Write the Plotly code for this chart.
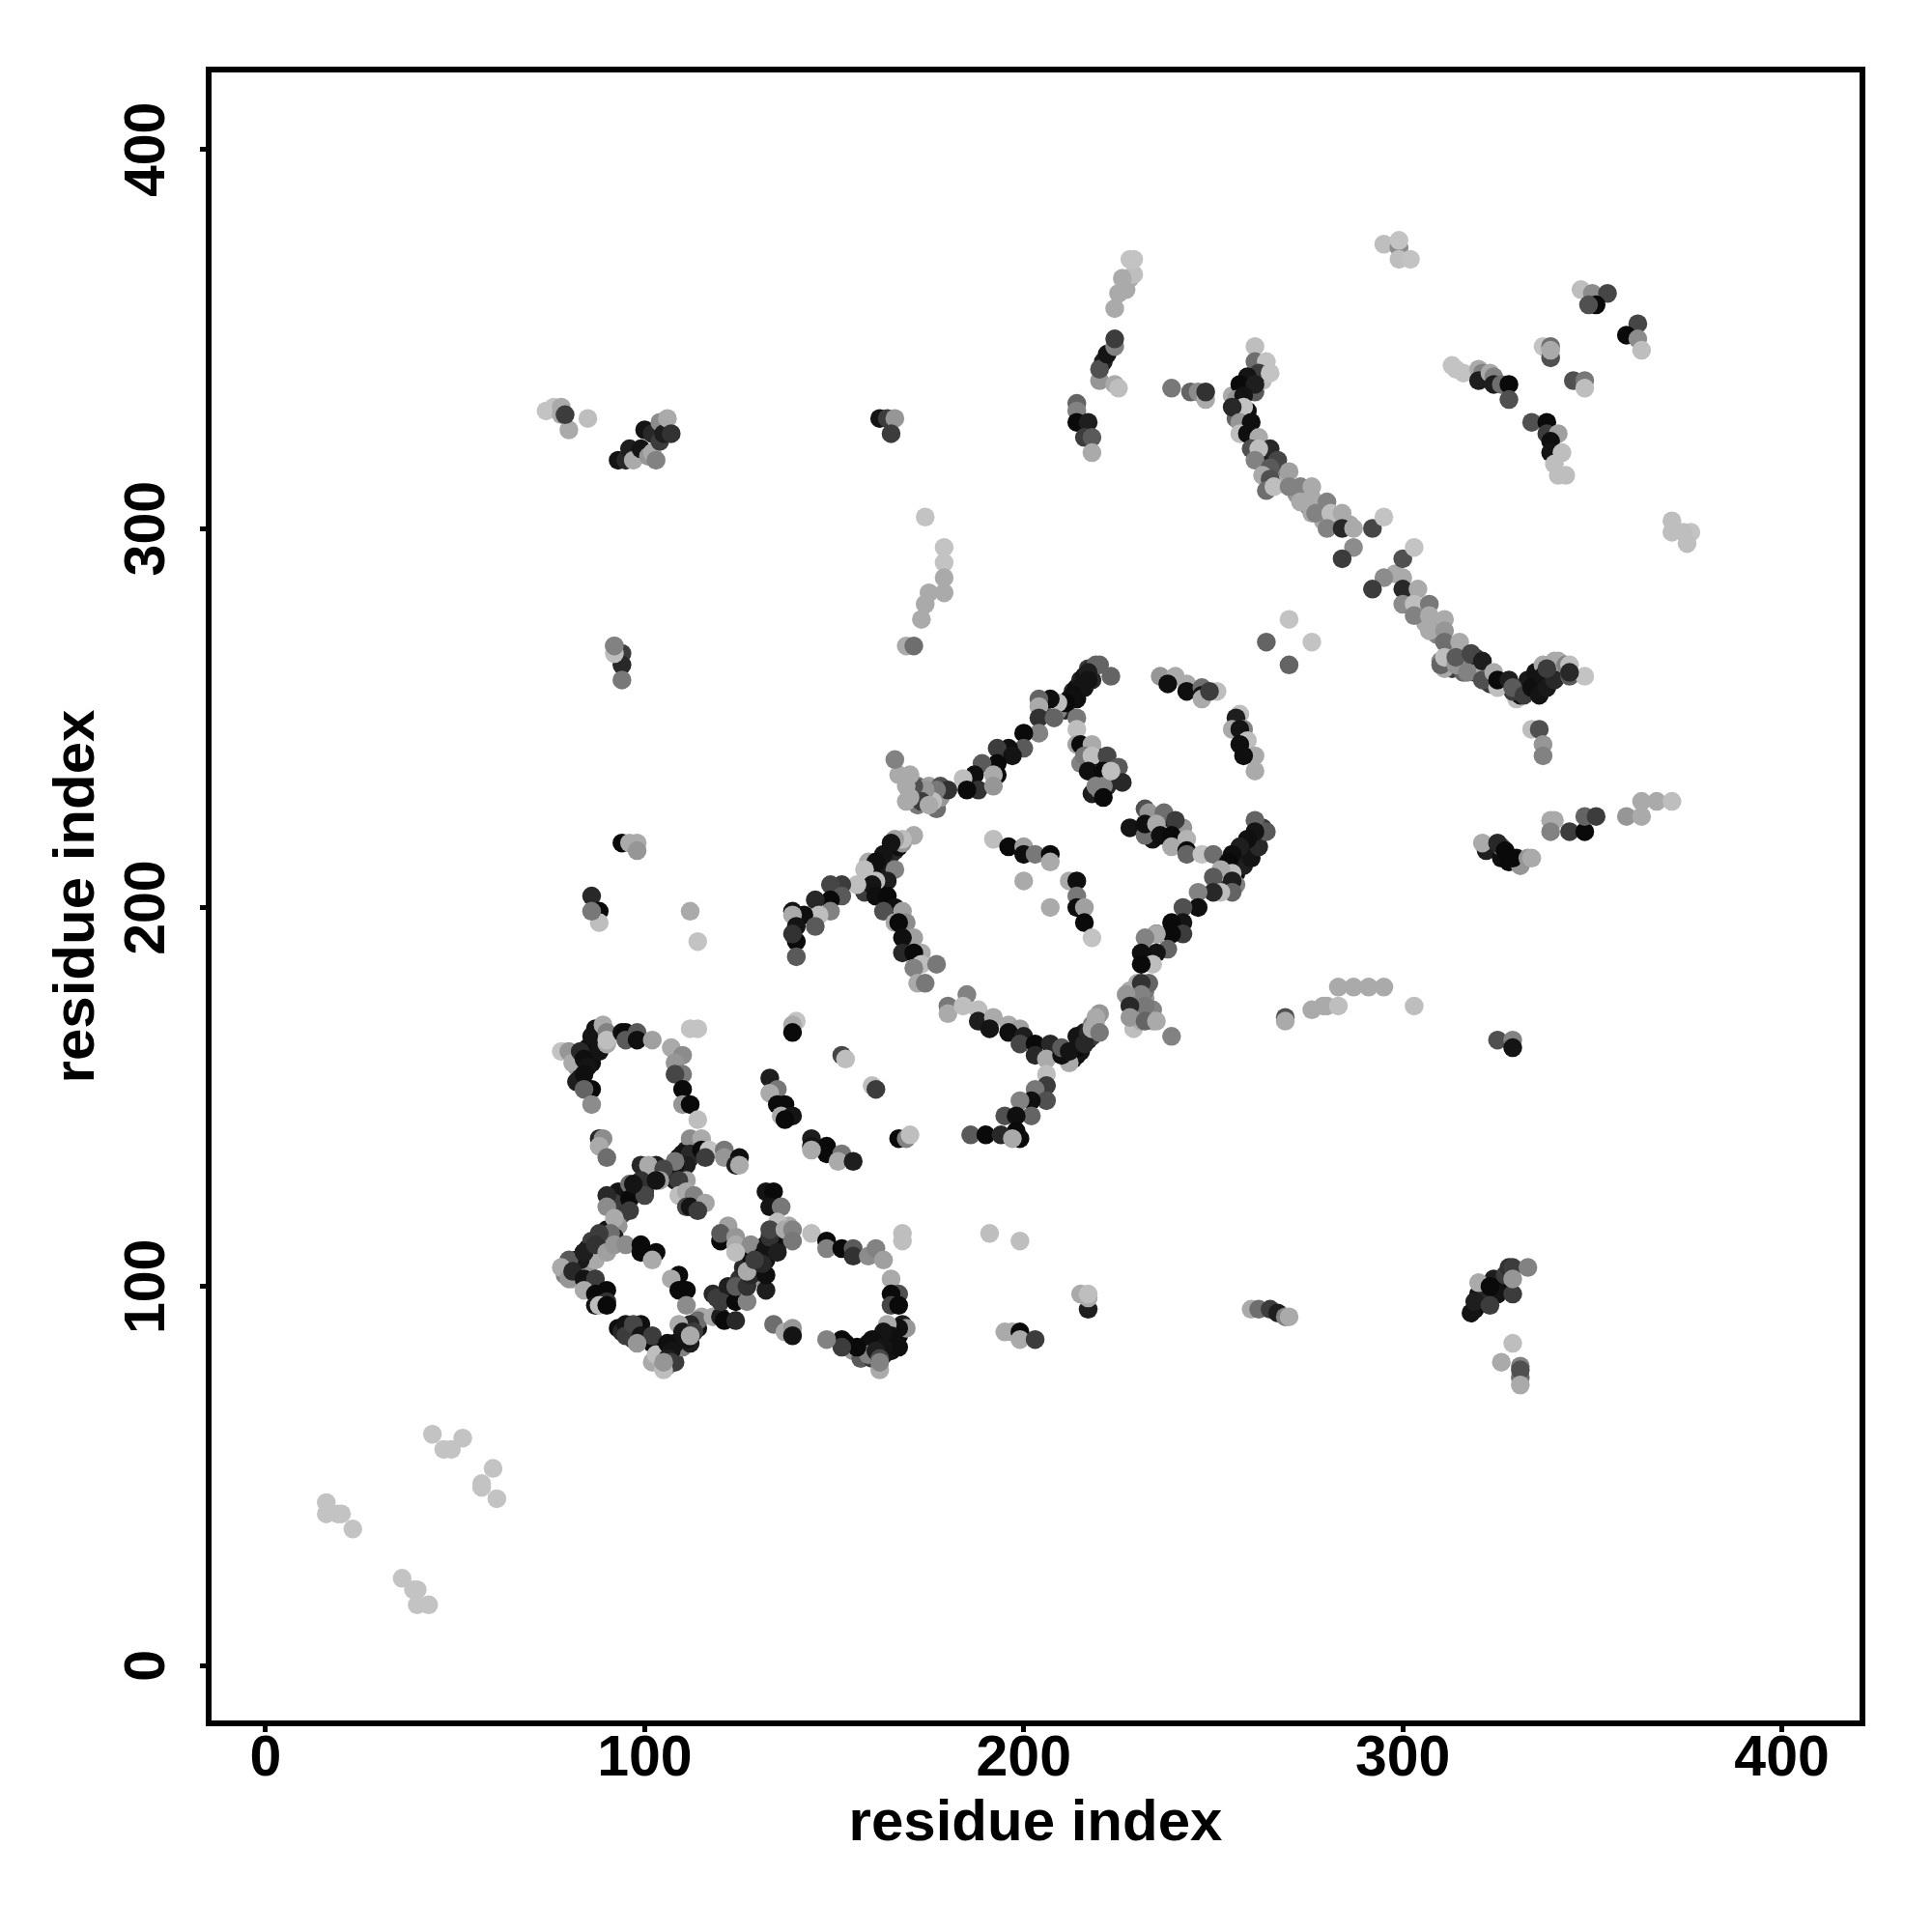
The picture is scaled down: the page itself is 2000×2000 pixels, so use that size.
import plotly.graph_objects as go

# each group: residue i, residue j, grey level of the contact
dense_a_x = [210,212,213,214,215,216,217,218,219,214,216,218,211,209,206,208,257,258,259,260,261,262,263,256,258,260,262,254,255,256,253,252,251]
dense_a_y = [253,255,257,258,260,261,263,263,264,255,258,260,252,252,252,254,212,214,215,216,218,219,221,209,211,213,216,210,207,206,208,207,205]
dense_a_g = [30,20,40,15,30,20,60,40,100,15,20,40,40,130,30,90,20,40,15,30,20,15,60,15,30,20,40,30,20,130,15,190,60]

dense_b_x = [160,161,162,163,164,165,166,167,168,160,162,164,166,159,158,161,106,107,108,109,110,111,112,113,105,106,108,110,112,114,104,115]
dense_b_y = [206,208,210,211,213,214,215,216,217,204,206,208,210,212,204,203,80,82,83,85,86,87,88,90,84,79,80,84,85,89,83,92]
dense_b_g = [20,40,15,30,20,60,40,15,150,30,15,25,130,170,60,20,30,15,40,20,15,30,60,40,20,150,60,130,30,20,190,170]

dense_c_x = [158,159,160,161,162,163,164,165,166,167,168,155,157,153,160,163,165,167,80,81,82,83,84,85,86,87,88,89,79,81,83,85,87,90]
dense_c_y = [84,85,83,86,85,84,87,85,88,87,90,83,81,85,81,82,83,84,105,104,107,106,108,110,109,112,111,113,103,102,104,105,107,115]
dense_c_g = [130,20,15,30,15,20,60,25,15,10,30,150,90,15,60,30,20,15,60,40,20,15,30,20,70,15,30,60,130,170,100,150,170,20]

dense_d_x = [82,83,84,85,86,87,82,84,86,88,90,108,109,110,111,112,113,114,115,109,111,113,131,132,133,134,135,136,137,130,132,134,136,138,129,131]
dense_d_y = [158,160,161,163,164,166,154,157,159,162,164,128,130,131,133,134,135,137,138,134,136,137,106,107,109,110,111,113,114,109,111,113,115,116,104,102]
dense_d_g = [150,20,15,30,15,40,30,25,15,20,170,30,15,20,15,40,60,20,140,15,30,170,15,20,10,30,15,20,70,30,15,25,40,170,60,150]

dense_e_x = [213,214,215,216,217,218,212,214,216,218,219,220,258,259,260,261,262,263,256,257,258,259,261,263,255,256,330,331,332,333,334,335,336,337,338,339,340,329,331,333,335,337,341]
dense_e_y = [160,161,162,164,165,166,159,163,167,169,170,172,336,338,339,340,342,343,333,335,330,331,336,339,335,329,255,256,257,258,259,260,261,262,263,264,265,257,258,260,262,264,263]
dense_e_g = [30,15,20,15,40,60,170,10,30,130,170,150,20,10,30,15,80,190,130,15,30,15,90,190,170,100,190,20,40,15,30,20,15,40,60,90,170,60,190,25,20,170,130]

dense_f_x = [310,312,313,315,316,318,319,311,314,317,170,171,172,173,174,175,176,177,178,169,172,175,178,229,230,231,232,233,234,228,230,232,234,229,231,233,233,235,236,238,239,241,232,234,237,240,242,215,217,219,220,222,224,218,220,222]
dense_f_y = [265,267,263,265,262,266,262,263,268,264,230,231,227,231,229,228,230,226,229,228,232,232,232,170,172,175,176,172,173,178,180,178,170,168,170,180,223,222,224,221,222,220,220,218,219,217,221,238,236,240,234,238,234,230,231,232]
dense_f_g = [130,170,60,190,100,130,60,170,80,90,130,170,120,190,60,90,170,110,150,170,110,160,80,170,130,110,150,120,130,170,170,120,170,190,170,100,15,20,170,10,30,15,15,20,170,10,150,130,190,15,170,10,10,30,120,40]

dense_g_x = [263,264,266,268,269,272,274,275,278,279,282,283,286,298,301,302,304,305,306,308,309,312,313,315,316,319,320,323]
dense_g_y = [318,320,316,313,312,309,309,306,305,302,302,303,301,288,283,282,279,278,275,275,272,268,265,264,264,266,262,259]
dense_g_g = [60,30,120,130,170,150,170,130,170,170,150,130,170,170,170,130,170,130,170,150,130,170,60,190,100,50,170,60]

dense_h_x = [319,320,322,324,326,327,325,328,322,326,328,330,331,326,93,94,96,97,100,98,102,106,94,93,92,94,93,90,92,118,119,122,125,126,128,130,133]
dense_h_y = [94,98,97,102,100,103,98,105,215,213,212,213,211,216,89,88,88,86,125,126,130,130,122,125,122,119,116,112,113,98,97,100,102,105,108,110,110]
dense_h_g = [10,20,40,30,15,60,20,50,30,15,10,20,150,100,15,40,30,60,50,25,20,40,40,20,60,70,150,60,30,40,60,30,50,40,15,20,60]

corner_x = [16,16,19,20,23,44,47,49,52,57,57,60,61,36,39,40,40,43]
corner_y = [43,40,40,40,36,61,57,57,60,48,47,52,44,23,20,20,16,16]
corner_g = [195,195,195,195,195,195,195,195,195,195,195,195,195,195,195,195,195,195]

tl_x = [74,76,78,78,80,79,85,93,95,96,97,99,100,101,102,102,103,104,104,105,106,107]
tl_y = [331,332,332,330,326,330,329,318,318,321,318,321,326,319,320,325,318,323,328,325,329,325]
tl_g = [195,195,170,170,170,60,190,20,40,30,170,20,20,150,170,40,130,60,140,30,170,50]

mid_top_x = [162,164,166,165,214,214,214,217,216,218,218,224,225,227,228,229,228,229,226,220,221,220,222,224,224,224,225]
mid_top_y = [329,329,329,325,333,331,328,328,324,324,320,358,362,363,366,367,371,371,366,339,344,342,346,348,350,338,337]
mid_top_g = [20,60,150,60,100,130,10,30,60,90,170,170,170,170,170,190,195,195,170,150,30,80,20,130,60,170,190]

arc_a_x = [239,244,246,248,248,261,261,264,262,265,259,257,261,256,258,258,255,257,260,257,259,262,260,265,262,267,261,270,265,263,265,264,266]
arc_a_y = [337,336,336,334,336,348,344,344,341,341,340,338,338,334,335,332,332,328,328,325,325,324,321,321,321,318,318,315,316,314,313,310,311]
arc_a_g = [120,100,140,170,50,190,110,195,60,195,20,10,30,150,20,195,40,150,15,190,15,170,80,40,190,70,130,160,90,170,80,110,190]

arc_b_x = [270,273,276,273,276,280,276,277,281,280,284,284,287,292,295,287,284,300,303,295,292,300,300,304,300,303,303,307,307,311,307,311,311,315]
arc_b_y = [311,311,311,307,308,307,304,304,304,300,304,300,300,300,303,295,292,292,295,287,284,287,284,284,280,280,277,280,277,276,273,273,270,270]
arc_b_g = [130,130,170,170,170,130,170,130,190,130,170,40,170,70,195,140,60,80,195,140,60,170,40,170,140,190,130,120,170,170,170,150,110,170]

arc_c_x = [310,311,314,314,318,317,321,321,324,325,325,328,329,332,334,337,336,338,340,341,338,343,344,344,348,344]
arc_c_y = [264,266,264,266,267,262,265,260,262,258,260,260,258,256,258,261,256,258,260,265,263,264,264,261,261,262]
arc_c_g = [100,190,150,90,70,130,30,80,170,190,10,30,90,60,15,20,20,25,40,170,60,130,190,90,195,40]

ur_x = [347,350,354,351,349,362,359,362,363,337,339,339,339,345,348,348,313,314,316,320,321,320,323,324,324,326,328,328]
ur_y = [363,362,362,359,359,354,351,350,347,348,348,345,347,339,339,337,343,342,341,342,341,339,341,340,338,338,338,334]
ur_g = [190,140,70,10,80,70,10,140,190,195,110,80,170,80,120,190,195,195,195,170,130,30,170,130,30,110,10,80]

ur2_x = [334,338,338,341,339,339,342,340,341,343,371,371,376,375,374,295,299,299,302,299,270,264,276,270,334,336,337,337]
ur2_y = [328,328,325,325,323,320,320,317,314,314,302,299,299,296,299,375,374,371,371,376,276,270,270,264,247,247,243,240]
ur2_g = [80,10,60,160,15,20,190,190,190,190,190,190,195,190,190,190,140,190,195,195,195,100,195,100,190,80,150,130]

right_x = [321,325,327,329,333,334,339,340,339,344,348,348,351,359,363,363,367,371,325,329,329]
right_y = [217,217,215,213,213,213,223,223,220,220,220,224,224,224,224,228,228,228,165,165,163]
right_g = [170,40,10,10,150,170,170,170,130,60,10,100,60,150,170,170,170,190,80,130,20]

lower_r_x = [318,319,320,323,323,329,329,333,329,329,326,331,331,331,331,269,269,276,279,280,283,283,287,291,295,303]
lower_r_y = [93,96,101,100,95,98,105,105,102,85,80,79,76,78,74,171,170,173,174,174,174,179,179,179,179,174]
lower_r_g = [20,30,170,10,60,60,60,130,150,190,170,130,110,80,170,80,170,170,170,170,190,170,170,170,170,190]

lower_m_x = [260,262,265,267,269,270,215,217,217,217,195,197,199,199,203,191,199]
lower_m_y = [94,94,94,93,92,92,98,94,97,98,88,88,88,86,86,114,112]
lower_m_g = [170,110,60,30,130,170,170,30,170,190,170,170,10,170,60,190,190]

arch_x = [78,80,81,83,84,85,83,84,86,84,86,86,87,89,90,90,94,95,95,98,98,102,107,110,108,110,108,110,110,112,114,112,114]
arch_y = [162,162,159,162,160,158,155,156,152,152,148,166,168,169,167,165,167,167,165,167,165,165,163,161,159,156,156,152,148,148,144,168,168]
arch_g = [195,150,170,40,15,20,30,15,10,100,140,20,20,170,130,190,15,10,90,90,15,160,170,140,150,120,70,10,150,10,190,195,195]

fl_a_x = [88,89,88,90,112,115,110,112,111,108,108,115,117,116,121,121,125,124,125,99,103,101,105,96,99,96,100,104,103,97]
fl_a_y = [139,139,137,134,139,139,135,135,132,132,133,136,136,134,136,134,134,132,132,132,132,132,131,127,128,123,124,128,128,127]
fl_a_g = [40,140,170,110,140,170,20,40,30,20,120,10,195,60,120,150,15,30,170,40,30,170,70,110,50,10,70,160,20,20]

fl_b_x = [90,92,96,90,92,111,109,109,111,113,111,112,116,114,91,88,86,84,83,80,78,80,81,84,87,90,92,95,99,99,103,102]
fl_b_y = [124,120,120,121,118,128,128,124,125,124,121,121,122,120,114,114,112,109,107,107,105,102,104,109,111,109,111,111,111,109,109,107]
fl_b_g = [40,60,60,140,170,160,60,190,170,130,70,20,165,60,110,60,60,20,25,90,170,150,40,30,50,160,150,140,10,10,10,170]

fl_c_x = [84,87,84,90,87,87,90,88,90,109,107,109,111,111,95,95,99,97,99,102,102,98,102,103]
fl_c_y = [102,102,99,99,98,95,96,95,95,103,102,99,99,95,90,87,90,90,87,85,87,85,80,82]
fl_c_g = [20,60,170,10,10,20,50,190,10,10,170,10,10,140,20,60,15,70,20,10,60,150,170,190]

fl_d_x = [114,112,109,110,111,108,106,107,106,107,105,105,113,112,118,120,121,124,120,124,124,127,127,128,127,132,132]
fl_d_y = [91,90,90,88,86,85,85,83,81,80,78,80,88,87,92,92,91,91,96,96,100,96,100,103,104,99,103]
fl_d_g = [110,40,170,25,20,20,15,20,30,60,190,150,60,170,170,30,10,40,60,10,90,130,50,40,170,30,15]

fl_e_x = [132,134,133,136,135,122,120,120,124,124,128,124,131,132,134,133,133,137,139,139,135,131,129,144]
fl_e_y = [125,125,121,121,117,116,112,114,113,111,111,109,108,110,112,113,115,115,115,112,109,106,107,114]
fl_e_g = [20,10,20,120,190,160,10,90,150,170,140,190,15,20,15,50,70,170,130,120,30,40,60,190]

loop_x = [148,148,152,155,155,159,161,163,168,168,165,167,165,165,167,169,167,164,165,163,160,163,159,161,162,162,162,156,152,152,148,134,137,139,139]
loop_y = [112,110,110,110,108,108,110,107,114,112,102,98,98,95,95,89,89,90,87,88,86,84,82,83,81,78,80,84,86,84,86,90,88,89,87]
loop_g = [10,130,10,90,50,140,130,160,190,190,170,80,10,70,10,150,15,170,15,20,15,20,130,30,70,170,130,10,10,60,130,110,170,150,20]

scatter_x = [140,139,139,133,135,133,135,137,136,139,137,144,144,148,148,152,151,155,144,152,153,160,161,167,169,170]
scatter_y = [170,169,167,155,152,151,148,148,145,145,144,139,137,137,135,135,133,133,136,161,160,153,152,139,139,140]
scatter_g = [195,170,10,30,120,170,10,10,170,20,10,30,20,10,10,120,170,30,170,70,190,190,60,10,130,190]

band_a_x = [174,179,179,179,179,175,174,173,169,171,92,94,94,94,92,92,94,96,98,98,86,88,88,86,112,114]
band_a_y = [303,295,291,287,283,283,280,276,269,269,269,267,264,260,267,269,217,217,217,215,203,199,196,199,199,191]
band_a_g = [195,195,195,170,170,170,170,170,170,110,140,60,40,120,190,130,10,170,170,150,40,10,190,120,170,195]

up_a_x = [220,223,217,217,215,213,211,209,207,204,204,204,208,214,204,200,200,196,193,197,193,193,189,192,187,184,188,192,185,180,177,176,174,173,171,170,170,167,166,169,175]
up_a_y = [264,261,262,260,258,256,254,254,255,255,253,250,250,250,246,246,242,242,242,240,238,235,238,235,235,234,231,232,231,231,231,228,231,228,232,229,235,235,239,232,227]
up_a_g = [100,100,30,20,20,15,10,190,15,100,170,50,100,120,130,10,90,15,60,20,10,10,90,170,15,190,50,150,10,50,120,190,150,60,80,170,170,170,130,170,170]

branch_x = [214,214,215,218,216,218,217,222,225,221,226,219,221,221,223,236,240,238,243,243,247,247,247,251,249,257,256,258,255,257,259,257,261,258,261]
branch_y = [247,243,243,243,240,240,236,240,237,236,233,232,232,229,236,261,261,259,259,257,258,256,255,257,257,251,250,247,247,247,244,243,240,240,236]
branch_g = [190,160,10,170,120,190,15,70,90,10,40,130,130,10,190,150,170,15,170,15,110,20,170,190,60,190,30,130,170,20,190,15,170,15,170]

rib_a_x = [232,233,237,240,228,232,232,235,236,239,243,239,243,243,247,250,261,264,261,259,257,255,254,255,252,250,255,255,252,250]
rib_a_y = [226,225,225,223,221,219,222,222,219,219,218,216,215,214,214,214,223,220,220,218,216,214,212,209,210,208,207,204,204,204]
rib_a_g = [80,150,110,60,20,110,15,170,15,10,180,170,10,100,195,110,100,90,20,15,30,15,10,190,170,90,30,100,190,40]

rib_b_x = [246,246,242,242,239,242,239,235,238,235,232,235,231,234,231,231,231,227,232,228,228,232,235,239]
rib_b_y = [204,200,200,196,196,193,193,193,189,193,192,188,188,185,185,180,177,177,174,174,171,170,170,166]
rib_b_g = [130,15,80,20,10,60,10,15,100,170,130,20,15,190,10,50,130,150,120,40,150,100,170,130]

inner_x = [192,196,200,200,203,207,207,200,207,212,214,214,214,216,216,218]
inner_y = [218,216,216,214,214,214,212,207,200,207,207,203,200,200,196,192]
inner_g = [190,10,160,15,120,10,170,170,170,170,15,120,15,160,10,195]

vee_x = [171,168,166,165,163,161,160,158,164,161,160,161,164,166,163,168,169,166,167,171,168,168,173,171,173,177,171,172,174]
vee_y = [219,218,218,217,214,212,210,210,207,207,206,203,203,200,199,199,196,196,196,192,192,188,188,188,185,185,184,180,180]
vee_g = [170,190,160,20,20,15,15,190,30,190,20,15,10,15,80,160,140,170,10,160,15,40,170,10,190,120,130,170,120]

left_x = [156,152,149,152,149,145,149,146,142,139,139,145,140,140,140,139]
left_y = [206,206,206,203,202,202,199,198,198,199,198,195,195,191,187,193]
left_g = [190,60,70,90,10,40,130,190,15,20,170,90,20,10,90,50]

bottom_x = [180,180,185,184,188,188,192,191,196,199,196,200,199,203,203,207,206,210,210,212,214,216,217,218,219,220]
bottom_y = [174,172,177,174,173,170,171,168,169,168,167,166,164,164,161,164,160,161,163,162,166,164,167,168,171,167]
bottom_g = [120,170,130,190,190,30,170,20,170,160,15,30,70,10,40,40,170,15,90,20,20,40,40,170,170,120]

stem_x = [206,206,203,206,202,199,195,202,198,198,199,186,190,194,197]
stem_y = [156,153,152,149,149,149,145,145,145,141,139,140,140,140,139]
stem_g = [190,60,120,80,15,130,80,100,15,10,10,90,10,40,170]

groups = [
    (dense_a_x, dense_a_y, dense_a_g), (dense_b_x, dense_b_y, dense_b_g), (dense_c_x, dense_c_y, dense_c_g),
    (dense_d_x, dense_d_y, dense_d_g), (dense_e_x, dense_e_y, dense_e_g), (dense_f_x, dense_f_y, dense_f_g),
    (dense_g_x, dense_g_y, dense_g_g), (dense_h_x, dense_h_y, dense_h_g),
    (corner_x, corner_y, corner_g), (tl_x, tl_y, tl_g), (mid_top_x, mid_top_y, mid_top_g),
    (arc_a_x, arc_a_y, arc_a_g), (arc_b_x, arc_b_y, arc_b_g), (arc_c_x, arc_c_y, arc_c_g),
    (ur_x, ur_y, ur_g), (ur2_x, ur2_y, ur2_g), (right_x, right_y, right_g),
    (lower_r_x, lower_r_y, lower_r_g), (lower_m_x, lower_m_y, lower_m_g), (arch_x, arch_y, arch_g),
    (fl_a_x, fl_a_y, fl_a_g), (fl_b_x, fl_b_y, fl_b_g), (fl_c_x, fl_c_y, fl_c_g),
    (fl_d_x, fl_d_y, fl_d_g), (fl_e_x, fl_e_y, fl_e_g), (loop_x, loop_y, loop_g),
    (scatter_x, scatter_y, scatter_g), (band_a_x, band_a_y, band_a_g), (up_a_x, up_a_y, up_a_g),
    (branch_x, branch_y, branch_g), (rib_a_x, rib_a_y, rib_a_g), (rib_b_x, rib_b_y, rib_b_g),
    (inner_x, inner_y, inner_g), (vee_x, vee_y, vee_g), (left_x, left_y, left_g),
    (bottom_x, bottom_y, bottom_g), (stem_x, stem_y, stem_g),
]

xs, ys, cs = [], [], []
for gx, gy, gg in groups:
    for a, b, c in zip(gx, gy, gg, strict=True):
        xs.append(a)
        ys.append(b)
        cs.append(f"rgb({c},{c},{c})")

tick_vals = [0, 100, 200, 300, 400]
FONT = "Liberation Sans"

fig = go.Figure(go.Scatter(
    x=xs, y=ys, mode="markers",
    marker=dict(size=19.5, color=cs, line=dict(width=0)),
    hoverinfo="skip", showlegend=False,
))

axis_common = dict(
    tickmode="array", tickvals=tick_vals, ticktext=[str(v) for v in tick_vals],
    showgrid=False, zeroline=False,
    showline=True, mirror=True, linecolor="black", linewidth=6,
    ticks="outside", ticklen=6, tickwidth=4.5, tickcolor="black",
    tickfont=dict(family=FONT, size=59, color="black", weight="bold"),
)
title_font = dict(family=FONT, size=60, color="black", weight="bold")

fig.update_layout(
    width=2000, height=2000, autosize=False,
    paper_bgcolor="white", plot_bgcolor="white",
    margin=dict(l=219, r=75, t=75, b=219, autoexpand=False),
    xaxis=dict(range=[-14.27, 420.5], ticklabelstandoff=-26,
               title=dict(text="residue index", standoff=14, font=title_font),
               **axis_common),
    yaxis=dict(range=[-14.5, 420.3], tickangle=-90, ticklabelstandoff=13, ticklabelshift=9,
               title=dict(text="residue index", standoff=2, font=title_font),
               **axis_common),
)

fig.write_html("out.html", config=dict(displayModeBar=False),
               post_script="document.body.style.margin='0';window.dispatchEvent(new Event('resize'));")
